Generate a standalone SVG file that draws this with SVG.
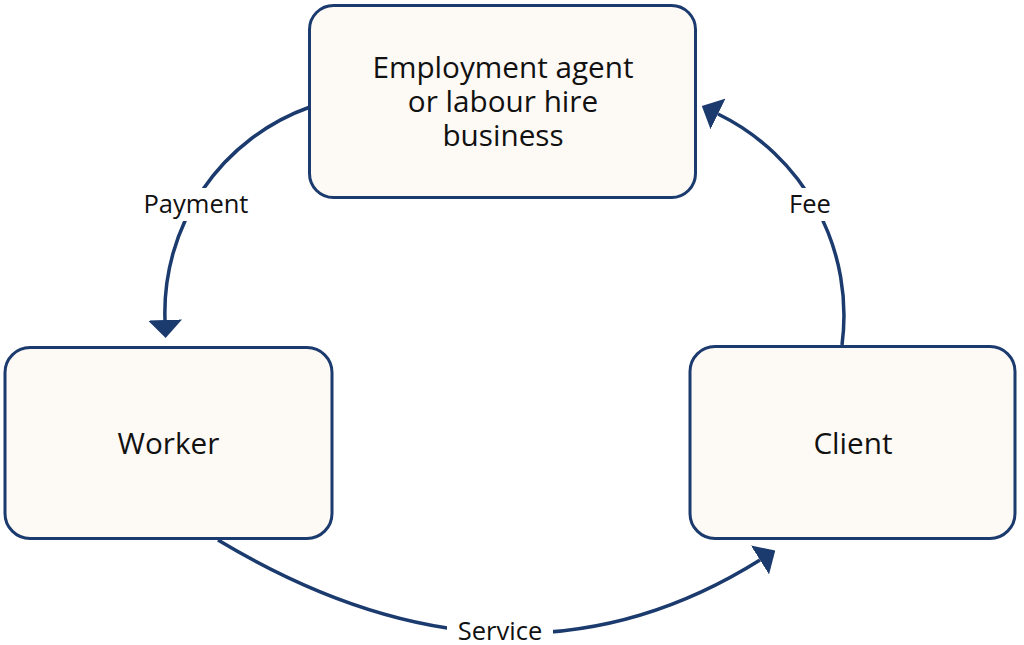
<svg xmlns="http://www.w3.org/2000/svg" width="1024" height="645" viewBox="0 0 1024 645">
  <defs>
    <style>
      .node rect { fill: #fdf9f5; stroke: #1b3a6d; stroke-width: 3; }
      .node text { font-family: "Open Sans", "Liberation Sans", sans-serif; font-size: 29.7px; fill: #111; text-anchor: middle; }
      .conn path { fill: none; stroke: #1b3a6d; stroke-width: 3.5; }
      .lbl rect { fill: #ffffff; }
      .lbl text { font-family: "Open Sans", "Liberation Sans", sans-serif; font-size: 25.5px; fill: #111; text-anchor: middle; }
    </style>
    <marker id="arrow" viewBox="0 0 18 34" markerWidth="18" markerHeight="34" refX="0" refY="17" orient="auto" markerUnits="userSpaceOnUse">
      <path d="M0,0 L18,17 L0,34 Z" fill="#1b3a6d"/>
    </marker>
  </defs>
  <rect width="1024" height="645" fill="#ffffff"/>

  <g id="connectors" class="conn">
    <path id="payment" d="M310,107 A218,218 0 0,0 165,320" marker-end="url(#arrow)"/>
    <path id="fee" d="M842,345 A224,224 0 0,0 718,114" marker-end="url(#arrow)"/>
    <path id="service" d="M218,540 Q511,716 760,560" marker-end="url(#arrow)"/>
  </g>

  <g id="labels" class="lbl">
    <g id="label-payment">
      <rect x="139" y="188" width="114" height="33"/>
      <text x="196" y="213">Payment</text>
    </g>
    <g id="label-fee">
      <rect x="785" y="188" width="50" height="33"/>
      <text x="810" y="213">Fee</text>
    </g>
    <g id="label-service">
      <rect x="447" y="615" width="106" height="30"/>
      <text x="500" y="640">Service</text>
    </g>
  </g>

  <g id="node-agent" class="node">
    <rect x="309.5" y="5.5" width="386" height="192" rx="24"/>
    <text x="503" y="78">Employment agent</text>
    <text x="503" y="112">or labour hire</text>
    <text x="503" y="146">business</text>
  </g>

  <g id="node-worker" class="node">
    <rect x="5" y="347.5" width="327" height="191" rx="25"/>
    <text x="168.5" y="454">Worker</text>
  </g>

  <g id="node-client" class="node">
    <rect x="690" y="346.5" width="325" height="192" rx="25"/>
    <text x="853" y="454">Client</text>
  </g>
</svg>
